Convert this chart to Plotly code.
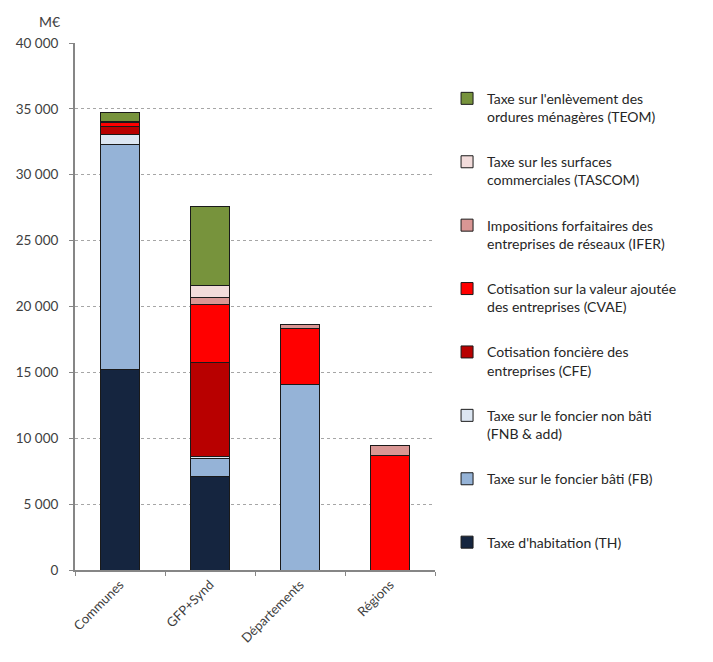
import plotly.graph_objects as go

categories = ["Communes", "GFP+Synd", "Départements", "Régions"]

series_names = [
    "Taxe d'habitation (TH)",
    "Taxe sur le foncier bâti (FB)<br> ",
    "Taxe sur le foncier non bâti<br>(FNB & add)",
    "Cotisation foncière des<br>entreprises (CFE)",
    "Cotisation sur la valeur ajoutée<br>des entreprises (CVAE)",
    "Impositions forfaitaires des<br>entreprises de réseaux (IFER)",
    "Taxe sur les surfaces<br>commerciales (TASCOM)",
    "Taxe sur l'enlèvement des<br>ordures ménagères (TEOM)",
]

TH = [15200, 7080, 0, 0]
FB = [17100, 1420, 14100, 0]
FNB = [760, 150, 0, 0]
CFE = [630, 7130, 0, 0]
CVAE = [300, 4380, 4200, 8700]
IFER = [50, 520, 300, 750]
TASCOM = [0, 880, 0, 0]
TEOM = [720, 6000, 0, 0]

series_values = [TH, FB, FNB, CFE, CVAE, IFER, TASCOM, TEOM]
colors = ["#15253f", "#95b3d7", "#dce6f2", "#b80000", "#ff0000", "#d99694", "#f2dcdb", "#77933c"]

tick_vals = [0, 5000, 10000, 15000, 20000, 25000, 30000, 35000, 40000]

FONT = "Lato, 'Open Sans', sans-serif"

fig = go.Figure()
n = len(series_names)
for i, (name, vals, col) in enumerate(zip(series_names, series_values, colors)):
    fig.add_trace(go.Bar(
        x=categories, y=vals, name=name, legendgroup=f"g{i}",
        legendrank=n - i,
        marker=dict(color=col, line=dict(color="#1a1a1a", width=1)),
    ))

fig.update_layout(
    width=713, height=662,
    barmode="stack", bargap=0.57,
    paper_bgcolor="white", plot_bgcolor="white",
    margin=dict(l=75, r=261, t=43, b=92),
    separators=", ",
    font=dict(family=FONT, size=12, color="#404040"),
    showlegend=True,
    legend=dict(
        traceorder="grouped", tracegroupgap=24, valign="top",
        xref="container", yref="container", x=0.627, y=0.875,
        xanchor="left", yanchor="top", maxheight=640,
        font=dict(family=FONT, size=14, color="#262626"),
        bgcolor="rgba(0,0,0,0)",
    ),
    annotations=[dict(
        text="M€", xref="paper", yref="paper", x=-0.07, y=1.02,
        xanchor="center", yanchor="bottom", showarrow=False,
        font=dict(family=FONT, size=14, color="#404040"),
    )],
)

fig.update_yaxes(
    range=[0, 40000], tickvals=tick_vals, tickformat=",d",
    showgrid=True, gridcolor="#a6a6a6", griddash="dot", gridwidth=1,
    showline=True, linecolor="#868686", linewidth=2,
    ticks="outside", ticklen=4, tickcolor="#868686",
    ticklabelstandoff=8, zeroline=False,
    tickfont=dict(family=FONT, size=13.5, color="#404040"),
)
fig.update_xaxes(
    showline=True, linecolor="#868686", linewidth=2,
    ticks="outside", ticklen=4, tickcolor="#868686", tickson="boundaries",
    tickangle=-45, showgrid=False,
    tickfont=dict(family=FONT, size=13, color="#404040"),
)

fig.write_html("out.html")
